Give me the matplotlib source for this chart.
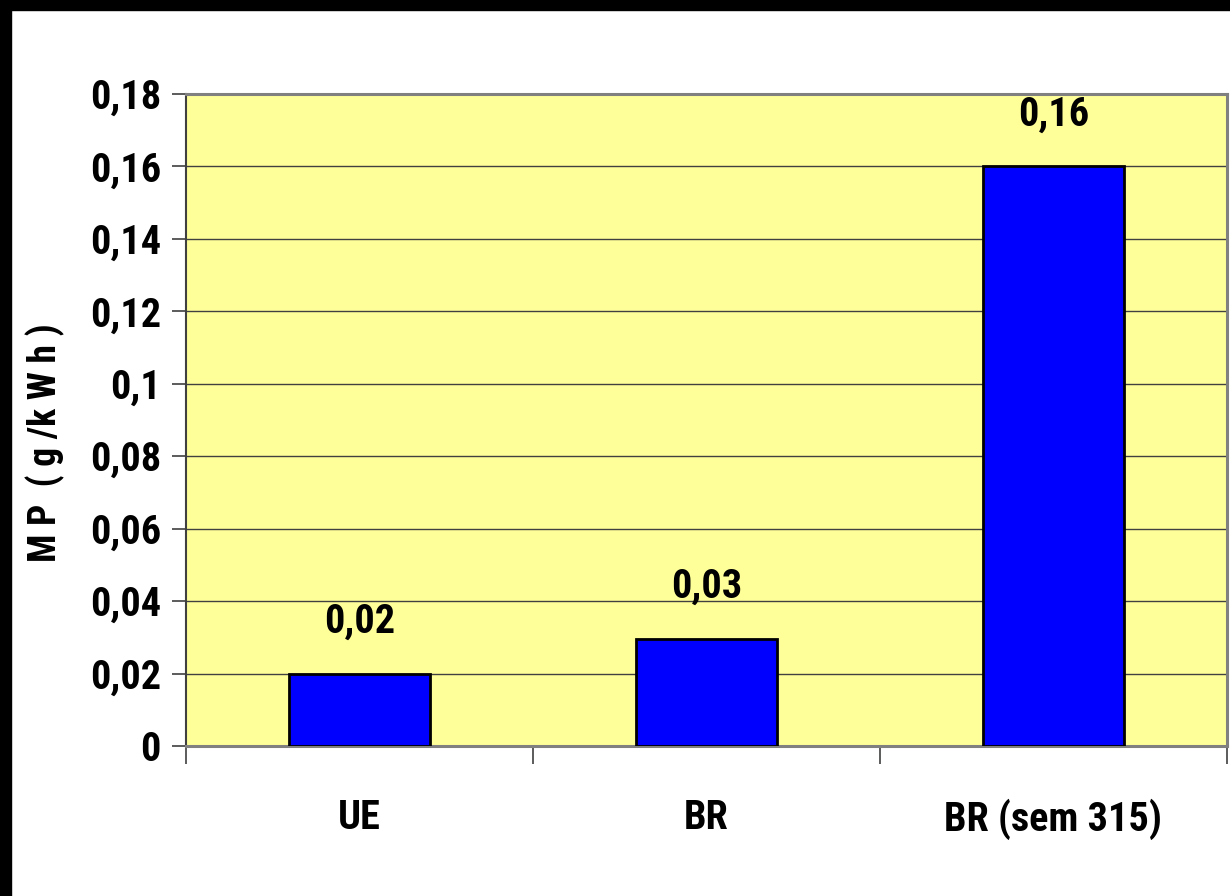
import matplotlib
matplotlib.use("Agg")
import matplotlib.pyplot as plt
from matplotlib.patches import Rectangle
from matplotlib.ticker import FixedLocator, NullFormatter

categories = ["UE", "BR", "BR (sem 315)"]
values = [0.02, 0.0295, 0.16]
value_labels = ["0,02", "0,03", "0,16"]
yticks = [0, 0.02, 0.04, 0.06, 0.08, 0.1, 0.12, 0.14, 0.16, 0.18]
ytick_labels = ["0", "0,02", "0,04", "0,06", "0,08", "0,1", "0,12", "0,14", "0,16", "0,18"]
ylabel = "M P  ( g /k W h )"

plt.rcParams['font.family'] = ['Roboto Condensed', 'Liberation Sans', 'DejaVu Sans']
plt.rcParams['font.weight'] = 'bold'
FS = 29

W, H = 1230, 896
fig = plt.figure(figsize=(W / 100, H / 100), dpi=100)
fig.patch.set_facecolor("white")

# black frame on left and top
fig.patches.append(Rectangle((0, 0), 11 / W, 1, transform=fig.transFigure, color="black", zorder=0))
fig.patches.append(Rectangle((0, 1 - 10 / H), 1, 10 / H, transform=fig.transFigure, color="black", zorder=0))

left, right, top, bottom = 186, 1227, 94, 746
ax = fig.add_axes([left / W, 1 - bottom / H, (right - left) / W, (bottom - top) / H])
ax.set_facecolor("#FFFF99")

x = list(range(len(categories)))
ax.bar(x, values, width=0.405, color="#0000FF", edgecolor="black", linewidth=2, zorder=3)
ax.set_xlim(-0.5, len(categories) - 0.5)
ax.set_ylim(0, 0.18)

ax.set_yticks(yticks)
ax.set_yticklabels(ytick_labels, fontsize=FS, fontweight="bold")
ax.yaxis.grid(True, color="#404040", linewidth=1, zorder=1)
ax.set_axisbelow(True)
ax.tick_params(axis="y", direction="out", length=10, width=1.2, color="#404040", pad=8)

ax.set_xticks(x)
ax.set_xticklabels(categories, fontsize=FS, fontweight="bold")
ax.tick_params(axis="x", length=0, pad=38)
ax.xaxis.set_minor_locator(FixedLocator([-0.5, 0.5, 1.5, 2.5]))
ax.xaxis.set_minor_formatter(NullFormatter())
ax.tick_params(axis="x", which="minor", direction="out", length=13, width=1.2, color="#404040")

for xi, v, lab in zip(x, values, value_labels):
    ax.annotate(lab, (xi, v), xytext=(0, 33), textcoords="offset pixels",
                ha="center", va="bottom", fontsize=FS, fontweight="bold")

for s in ["top", "right", "bottom"]:
    ax.spines[s].set_color("#808080")
    ax.spines[s].set_linewidth(2.2)
ax.spines["left"].set_color("#404040")
ax.spines["left"].set_linewidth(1.5)

fig.text(45 / W, 1 - 443 / H, ylabel, rotation=90, ha="center", va="center",
         fontsize=27, fontweight="bold")

fig.savefig("out.png", dpi=100)
